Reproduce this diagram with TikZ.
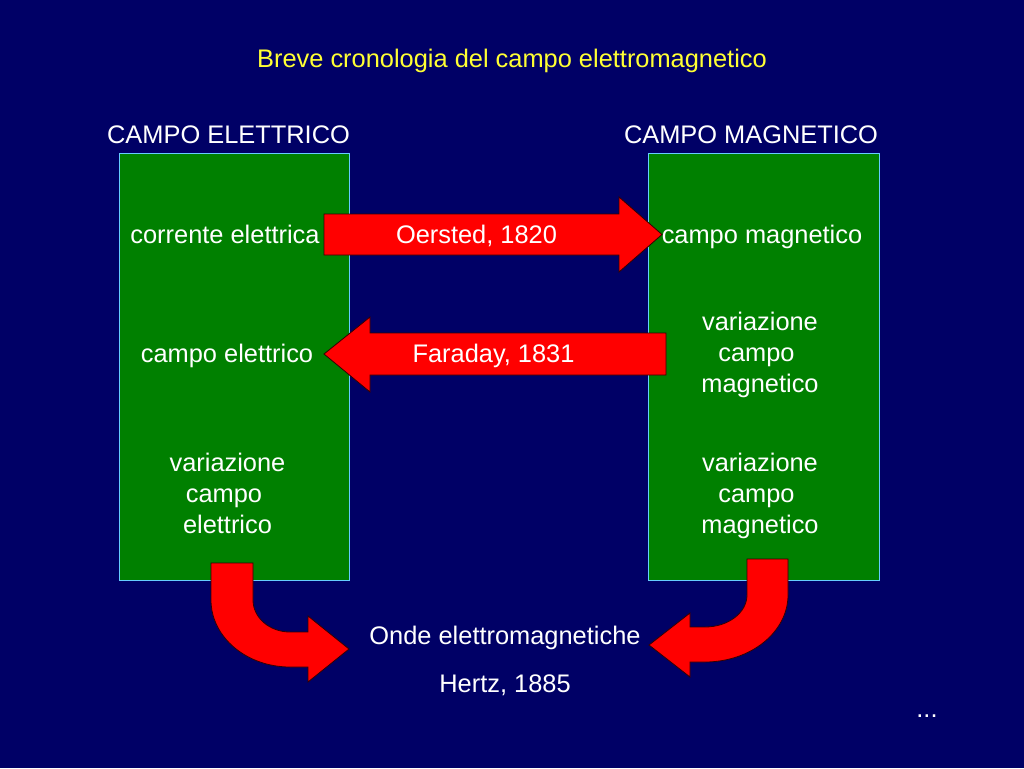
\documentclass[tikz,border=0pt]{standalone}
\usepackage{fontspec}
\setmainfont{Liberation Sans}
\definecolor{bg}{HTML}{000066}
\definecolor{boxgreen}{HTML}{008000}
\definecolor{boxline}{HTML}{66CCFF}
\definecolor{titleyellow}{HTML}{FFFF33}
\definecolor{arrowred}{HTML}{FF0000}
\definecolor{arrowline}{HTML}{330000}
\begin{document}
\begin{tikzpicture}[x=1pt,y=-1pt,
  txt/.style={text=white,inner sep=0pt,anchor=base,font=\fontsize{25.4}{30.7}\selectfont,align=center},
  panel/.style={fill=boxgreen,draw=boxline,line width=1pt},
  blockarrow/.style={fill=arrowred,draw=arrowline,line width=0.8pt,line join=miter}]
\useasboundingbox (0,0) rectangle (1024,768);
\fill[bg] (0,0) rectangle (1024,768);

% title
\node[txt,text=titleyellow] (title) at (512,67.5) {Breve cronologia del campo elettromagnetico};

% column headings
\node[txt] (hE) at (228.5,143) {CAMPO ELETTRICO};
\node[txt] (hM) at (751,143) {CAMPO MAGNETICO};

% panels
\draw[panel] (119.5,153.5) rectangle (349.5,580) coordinate (boxE);
\draw[panel] (648.5,153.5) rectangle (879,580) coordinate (boxM);

% texts in left panel (multi-line nodes: base = last line)
\node[txt] (corr) at (225,243) {corrente elettrica};
\node[txt] (cE) at (227,362) {campo elettrico};
\node[txt] (vE) at (227.5,533) {variazione\\campo\kern7pt\\elettrico};

% texts in right panel
\node[txt] (cM) at (762,243) {campo magnetico};
\node[txt] (vM1) at (760,392) {variazione\\campo\kern7pt\\magnetico};
\node[txt] (vM2) at (760,533) {variazione\\campo\kern7pt\\magnetico};

% straight block arrows
\draw[blockarrow] (324,214) -- (619,214) -- (619,197) -- (662,234.5) -- (619,272) -- (619,255) -- (324,255) -- cycle;
\node[txt] (oer) at (476.5,243) {Oersted, 1820};
\draw[blockarrow] (666,333) -- (370,333) -- (370,317) -- (324,354) -- (370,392) -- (370,375) -- (666,375) -- cycle;
\node[txt] (far) at (493.5,362) {Faraday, 1831};

% curved block arrows
\draw[blockarrow] (211,563) -- (253,563) -- (253,600)
  .. controls (253,617.7) and (269.6,632) .. (290,632) -- (308,632) -- (308,616)
  -- (349,649) -- (308,682) -- (308,667) -- (290,667)
  .. controls (246.4,667) and (211,637) .. (211,600) -- cycle;
\draw[blockarrow] (747,559) -- (788,559) -- (788,595)
  .. controls (788,632) and (750.8,662) .. (705,662) -- (690,662) -- (690,677)
  -- (649,645) -- (690,613) -- (690,627) -- (705,627)
  .. controls (728.2,627) and (747,612.7) .. (747,595) -- cycle;

% bottom texts
\node[txt] (onde) at (505,644) {Onde elettromagnetiche};
\node[txt] (hertz) at (505,692) {Hertz, 1885};
\node[txt] (dots) at (927,717) {...};
\end{tikzpicture}
\end{document}
